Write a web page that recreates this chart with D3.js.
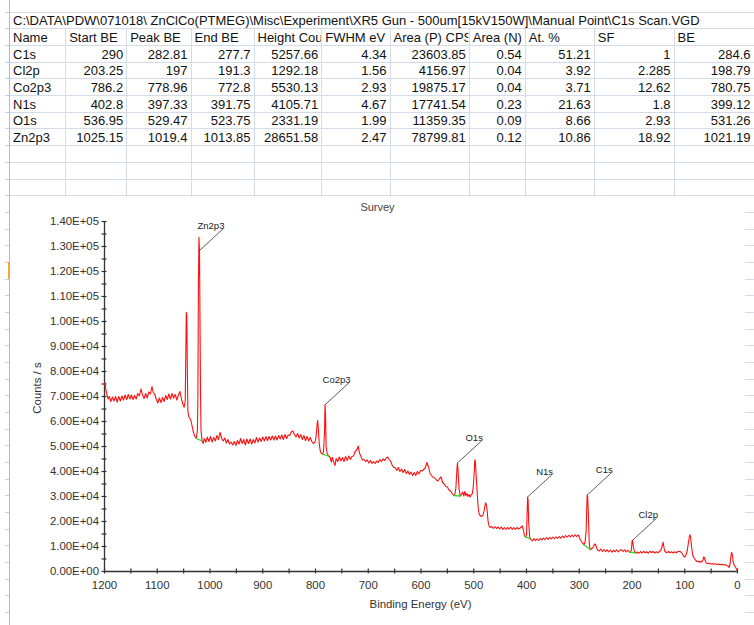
<!DOCTYPE html>
<html>
<head>
<meta charset="utf-8">
<script src="https://cdn.jsdelivr.net/npm/d3@7"></script>
<style>
  html, body { margin: 0; padding: 0; background: #fff; }
  svg { display: block; font-family: "Liberation Sans", Arial, sans-serif; }
</style>
</head>
<body>
<svg id="sheet" width="754" height="625"></svg>
<script>
// ---- Peak table (one entry per fitted region) ----
const filePath = "C:\\DATA\\PDW\\071018\\ ZnClCo(PTMEG)\\Misc\\Experiment\\XR5 Gun - 500um[15kV150W]\\Manual Point\\C1s Scan.VGD";
const columnHeaders = ["Name", "Start BE", "Peak BE", "End BE", "Height Cou", "FWHM eV", "Area (P) CPS", "Area (N)", "At. %", "SF", "BE"];
const peakNames   = ["C1s", "Cl2p", "Co2p3", "N1s", "O1s", "Zn2p3"];
const startBE     = [290, 203.25, 786.2, 402.8, 536.95, 1025.15];
const peakBE      = [282.81, 197, 778.96, 397.33, 529.47, 1019.4];
const endBE       = [277.7, 191.3, 772.8, 391.75, 523.75, 1013.85];
const heightCount = [5257.66, 1292.18, 5530.13, 4105.71, 2331.19, 28651.58];
const fwhmEV      = [4.34, 1.56, 2.93, 4.67, 1.99, 2.47];
const areaP       = [23603.85, 4156.97, 19875.17, 17741.54, 11359.35, 78799.81];
const areaN       = [0.54, 0.04, 0.04, 0.23, 0.09, 0.12];
const atomicPct   = [51.21, 3.92, 3.71, 21.63, 8.66, 10.86];
const sensFactor  = [1, 2.285, 12.62, 1.8, 2.93, 18.92];
const refBE       = [284.6, 198.79, 780.75, 399.12, 531.26, 1021.19];

// ---- Survey spectrum: [binding energy (eV), counts / s] ----
const surveyHigh = [
  [1200,74500],[1198,75200],[1196,72000],[1194,70200],[1192,68800],[1190,69800],[1187,67800],[1184,69600],
  [1181,68000],[1178,69800],[1175,67600],[1172,69800],[1169,68000],[1166,70000],[1163,68400],[1160,70400],
  [1157,68600],[1154,70600],[1151,68800],[1148,70400],[1145,68600],[1142,70200],[1139,68800],[1136,71000],
  [1133,70000],[1130,72800],[1127,70400],[1124,69000],[1121,71000],[1118,69200],[1115,71600],[1112,70800],
  [1109,73800],[1107,71600],[1104,70800],[1101,68800],[1098,67200],[1095,69200],[1092,67400],[1089,69400],
  [1086,67800],[1083,70200],[1080,68600],[1077,70800],[1074,68800],[1071,71000],[1068,69200],[1065,70600],
  [1062,68400],[1059,70400],[1056,71800],[1053,68600],[1050,66500],[1048,65500],[1046,68000],[1045,85000],
  [1044,103500],[1043,102000],[1042,80000],[1041,64000],[1039,61500],[1037,61000],[1035,60000],[1033,58000],
  [1031,56000],[1029,54500],[1027,53500],[1025,53000],[1023,56000],[1022,70000],[1021,115000],[1020,133500],
  [1019,128000],[1018,100000],[1017,70000],[1016,56000],[1014,52000],[1012,51000],[1010,53000],[1007,51500],
  [1004,53500],[1001,51800]
];
const surveyMid = [
  [998,53800],[995,51600],[992,53400],[989,52000],[986,54200],[983,52600],[980,55500],[977,53000],
  [974,52000],[971,53200],[968,51200],[965,52600],[962,50800],[959,51600],[956,50400],[953,51800],
  [950,50200],[947,52200],[944,50800],[941,53000],[938,51000],[935,52600],[932,50400],[929,52800],
  [926,51000],[923,52800],[920,50800],[917,52600],[914,51200],[911,53400],[908,51600],[905,53200],
  [902,51800],[899,53600],[896,52000],[893,53800],[890,52200],[887,53800],[884,52400],[881,54000],
  [878,52400],[875,54000],[872,52400],[869,54200],[866,52800],[863,54400],[860,52600],[857,54600],
  [854,53000],[851,54400],[848,54200],[845,55600],[842,56000],[839,54600],[836,53600],[833,55000],
  [830,53200],[827,54600],[824,52600],[821,54200],[818,52200],[815,53800],[812,52000],[809,53400],
  [806,51800],[803,51000],[800,51600],[798,53500],[796,58500],[795,60300],[794,58000],[792,51000],
  [790,48000],[788,47000],[786,46800],[784,47500],[782,55000],[781,66500],[780,63000],[779,50000],
  [777,47000],[775,46200],[773,45800],[771,45400],[769,43600],[767,45400],[765,43800],[762,42200],
  [760,45000],[757,43800],[754,45600],[751,44000],[748,45400],[745,43800],[742,45800],[739,44200],
  [736,46000],[733,44600],[730,45800],[727,46000],[724,47800],[721,48400],[718,50000],[716,47400],
  [713,45800],[710,44400],[707,44600],[704,43800],[701,44400],[698,43200],[695,44200],[692,43000],
  [689,43800],[686,43000],[683,44000],[680,43400],[677,44600],[674,43800],[671,44800],[668,44200],
  [665,45200],[662,45600],[660,44800],[657,44000],[654,42500],[651,41400],[648,41400],[645,40200],
  [642,41400],[639,39800],[636,40800],[633,39400],[630,40600],[627,39000],[624,40000],[621,38600],
  [618,39600],[615,38200],[612,39400],[609,38200],[606,39800],[603,38800],[600,40200],[597,40000],
  [594,40600],[591,41200],[588,43400],[585,41800],[582,39000],[579,38200],[576,37400],[573,37200],
  [570,36400],[567,36000],[564,37000],[561,37600],[558,35400],[555,34800],[552,33800],[549,33600],
  [546,32400],[543,32000],[540,31000],[537,30200],[535,30500],[533,33000],[531,40500],[530,43200],
  [529,41000],[527,33000],[525,30400],[524,30000],[522,30800],[520,31600],[518,30000],[516,31800],
  [514,30200],[512,31000],[510,29800],[508,30600],[506,29600],[504,30400],[502,30800]
];
const surveyLow = [
  [500,33500],[498,40000],[497,44500],[496,44000],[495,40000],[493,33000],[491,26000],[489,23000],
  [487,22200],[485,21800],[483,22000],[481,22600],[479,24500],[477,27000],[476,27200],[474,25000],
  [472,20000],[470,18000],[468,17400],[465,17800],[462,17000],[459,17800],[456,17000],[453,17600],
  [450,16800],[447,17600],[444,16600],[441,17400],[438,16600],[435,17400],[432,16800],[429,17600],
  [426,16600],[423,17400],[420,16600],[417,17400],[414,16800],[411,17200],[409,17600],[407,18000],
  [405,16500],[403,14000],[401,13500],[399,14500],[398,22000],[397,29600],[396,28500],[395,20000],
  [393,13500],[392,12800],[390,12600],[388,12000],[385,13000],[382,12100],[379,12900],[376,12200],
  [373,13100],[370,12400],[367,13200],[364,12500],[361,13400],[358,12600],[355,13500],[352,12800],
  [349,13600],[346,12900],[343,13700],[340,13000],[337,13800],[334,13100],[331,14000],[328,13300],
  [325,14200],[322,13500],[319,14300],[316,13600],[313,14400],[310,13700],[307,14500],[304,13800],
  [301,14400],[299,13500],[297,12500],[295,11800],[293,11200],[291,10800],[290,10500],[288,11500],
  [286,16000],[285,24000],[284,30400],[283,29500],[282,24000],[281,17000],[280,11000],[279,9200],
  [278,8500],[276,8800],[274,9200],[272,9800],[270,10800],[268,10500],[266,9200],[264,8400],
  [261,8000],[258,8800],[255,7800],[252,8600],[249,7700],[246,8500],[243,7600],[240,8400],
  [237,7500],[234,8300],[231,7700],[228,8500],[225,7600],[222,8300],[219,8600],[216,7800],
  [213,8500],[210,7600],[207,8300],[204,7600],[202,7400],[200,8800],[199,12000],[198,12300],
  [197,10500],[195,8200],[193,7400],[191,7200],[189,7600],[186,7100],[183,7800],[180,7200],
  [177,7900],[174,7300],[171,7700],[168,7100],[165,7900],[162,7400],[159,7800],[156,7200],
  [153,7700],[150,7300],[147,7800],[145,8200],[143,9000],[141,10800],[140,11500],[139,10000],
  [137,8000],[135,7600],[133,7300],[130,7800],[127,7300],[124,7700],[121,7200],[118,7700],
  [115,7300],[112,7800],[109,7900],[106,7500],[104,7000],[102,6200],[100,5600],[98,6000],
  [96,6800],[94,8500],[92,11500],[90,14000],[89,14500],[88,13500],[86,9500],[84,6500],
  [82,5400],[80,4800],[78,4200],[76,3800],[74,3900],[72,3600],[70,3800],[68,3500],
  [66,3900],[64,4800],[63,5700],[62,5400],[60,4000],[58,3200],[56,3000],[53,3100],
  [50,2800],[47,3000],[44,2700],[41,2900],[38,2600],[35,2800],[32,2500],[29,2700],
  [26,2400],[23,2600],[20,2200],[17,2000],[15,1400],[13,3000],[11,6800],[10,7500],
  [9,6500],[7,3500],[5,2200],[3,1600],[1,800],[0,400]
];
const xTickValues = d3.range(0, 1201, 100);
const xMinorValues = d3.range(50, 1200, 100);
const yTickValues = d3.range(0, 140001, 10000);
const yMinorValues = d3.range(5000, 140000, 10000);

const survey = surveyHigh.concat(surveyMid, surveyLow);

// ---- Sheet layout ----
const W = 754, H = 625;
const svg = d3.select("#sheet");
const rowH = 16.67, gridTop = 12.3;
const colEdges = [9.5, 65.7, 126.7, 191, 254, 321.7, 390, 469.3, 525.3, 594.3, 674, 770];
const gridColor = "#d5dce9";

const grid = svg.append("g").attr("shape-rendering", "crispEdges");
const nRows = Math.ceil((H - gridTop) / rowH) + 1;
const rowLines = d3.range(nRows).map(i => gridTop + i * rowH);

grid.selectAll("line.row").data(rowLines).join("line")
  .attr("x1", 9.5).attr("x2", W).attr("y1", d => d).attr("y2", d => d)
  .attr("stroke", gridColor);
grid.selectAll("line.col").data(colEdges.slice(1, -1)).join("line")
  .attr("x1", d => d).attr("x2", d => d).attr("y1", gridTop + rowH).attr("y2", H)
  .attr("stroke", gridColor);
// row-header edge and its separators
grid.append("line").attr("x1", 9.5).attr("x2", 9.5).attr("y1", 0).attr("y2", H)
  .attr("stroke", "#a7bcdb");
grid.selectAll("line.hdr").data(rowLines).join("line")
  .attr("x1", 5).attr("x2", 9).attr("y1", d => d).attr("y2", d => d)
  .attr("stroke", "#c6d3e7");
grid.append("rect").attr("x", 7.5).attr("y", gridTop + 15 * rowH).attr("width", 2.5).attr("height", rowH)
  .attr("fill", "#f4a83a");

// cell clipping
const defs = svg.append("defs");
colEdges.slice(0, -1).forEach((x0, j) => {
  defs.append("clipPath").attr("id", "col" + j)
    .append("rect").attr("x", x0).attr("y", 0).attr("width", colEdges[j + 1] - x0 - 1).attr("height", H);
});

const cells = svg.append("g").attr("font-size", "13px").attr("fill", "#111");
cells.append("text").attr("x", 13).attr("y", gridTop + 13).text(filePath);

const headerY = gridTop + rowH + 13;
cells.selectAll("text.head").data(columnHeaders).join("text")
  .attr("clip-path", (d, j) => `url(#col${j})`)
  .attr("x", (d, j) => colEdges[j] + 3.5).attr("y", headerY).text(d => d);

const tableRows = peakNames.map((name, i) => [name, startBE[i], peakBE[i], endBE[i], heightCount[i],
  fwhmEV[i], areaP[i], areaN[i], atomicPct[i], sensFactor[i], refBE[i]]);

tableRows.forEach((row, i) => {
  const yb = gridTop + (i + 2) * rowH + 13;
  cells.append("g").selectAll("text").data(row).join("text")
    .attr("x", (d, j) => j === 0 ? colEdges[0] + 3.5 : Math.min(colEdges[j + 1], W) - 3.5)
    .attr("text-anchor", (d, j) => j === 0 ? "start" : "end")
    .attr("y", yb)
    .text(d => String(d));
});

// ---- Chart object ----
svg.append("rect").attr("x", 10).attr("y", 197).attr("width", 735).attr("height", 428).attr("fill", "#fff");

const x = d3.scaleLinear().domain([1200, 0]).range([104, 737]);
const y = d3.scaleLinear().domain([0, 140000]).range([571, 221]);

const fmtE = v => {
  const [m, e] = v.toExponential(2).split("e");
  const n = +e;
  return m + "E" + (n < 0 ? "-" : "+") + String(Math.abs(n)).padStart(2, "0");
};

const axisColor = "#333";
const tickLen = 2.5;

function styleAxis(g) {
  g.attr("font-family", null).attr("font-size", null);
  g.select(".domain").attr("stroke", axisColor).attr("stroke-width", 1.3);
  g.selectAll(".tick line").attr("stroke", axisColor).attr("stroke-width", 1.2);
  g.selectAll(".tick text").attr("fill", "#333").attr("font-size", "11.4px");
}

// y axis
const yAxisG = svg.append("g").attr("transform", "translate(104,0)")
  .call(d3.axisLeft(y).tickValues(yTickValues).tickFormat(fmtE).tickSize(tickLen).tickSizeOuter(0).tickPadding(2.5))
  .call(styleAxis);
yAxisG.selectAll(".tick line").attr("x1", tickLen);
const yMinorG = svg.append("g").attr("transform", "translate(104,0)")
  .call(d3.axisLeft(y).tickValues(yMinorValues).tickFormat(() => "").tickSize(tickLen).tickSizeOuter(0))
  .call(styleAxis);
yMinorG.select(".domain").remove();
yMinorG.selectAll(".tick line").attr("x1", tickLen);

// x axis
const xAxisG = svg.append("g").attr("transform", "translate(0,571)")
  .call(d3.axisBottom(x).tickValues(xTickValues).tickFormat(d3.format("d")).tickSize(tickLen).tickSizeOuter(0).tickPadding(7.5))
  .call(styleAxis);
xAxisG.selectAll(".tick line").attr("y1", -tickLen);
const xMinorG = svg.append("g").attr("transform", "translate(0,571)")
  .call(d3.axisBottom(x).tickValues(xMinorValues).tickFormat(() => "").tickSize(tickLen).tickSizeOuter(0))
  .call(styleAxis);
xMinorG.select(".domain").remove();
xMinorG.selectAll(".tick line").attr("y1", -tickLen);

// titles
svg.append("text").attr("x", 377.5).attr("y", 211).attr("text-anchor", "middle")
  .attr("font-size", "11px").attr("fill", "#444").text("Survey");
svg.append("text").attr("x", 420.5).attr("y", 608).attr("text-anchor", "middle")
  .attr("font-size", "11.4px").attr("fill", "#333").text("Binding Energy (eV)");
svg.append("text").attr("transform", "translate(41,388) rotate(-90)").attr("text-anchor", "middle")
  .attr("font-size", "11.4px").attr("fill", "#333").text("Counts / s");

// spectrum trace
const line = d3.line().x(d => x(d[0])).y(d => y(d[1]));
svg.append("path").datum(survey).attr("d", line)
  .attr("fill", "none").attr("stroke", "#ff1010").attr("stroke-width", 1.1).attr("stroke-linejoin", "round");

// region backgrounds and peak labels
const nearest = be => survey.reduce((a, b) => Math.abs(b[0] - be) < Math.abs(a[0] - be) ? b : a);
const regions = peakNames.map((name, i) => {
  const inside = survey.filter(d => d[0] <= startBE[i] && d[0] >= endBE[i]);
  const top = inside.reduce((a, b) => b[1] > a[1] ? b : a);
  return { name, s: startBE[i], e: endBE[i], bgS: nearest(startBE[i])[1], bgE: nearest(endBE[i])[1], top };
});

svg.append("g").selectAll("line").data(regions).join("line")
  .attr("x1", d => x(d.s)).attr("y1", d => y(d.bgS))
  .attr("x2", d => x(d.e)).attr("y2", d => y(d.bgE))
  .attr("stroke", "#22dd22").attr("stroke-width", 1.3);

const labels = svg.append("g");
regions.forEach(r => {
  const px = x(r.top[0]);
  let py = y(r.top[1]);
  let ey = py - 22;
  const minY = y.range()[1] + 8;
  if (ey < minY) { ey = minY; py = ey + 22; }
  const ex = px + 24;
  labels.append("line").attr("x1", px).attr("y1", py).attr("x2", ex).attr("y2", ey)
    .attr("stroke", "#333").attr("stroke-width", 0.8);
  labels.append("text").attr("x", ex + 1.5).attr("y", ey).attr("text-anchor", "end")
    .attr("font-size", "9.5px").attr("fill", "#222").text(r.name);
});
</script>
</body>
</html>
